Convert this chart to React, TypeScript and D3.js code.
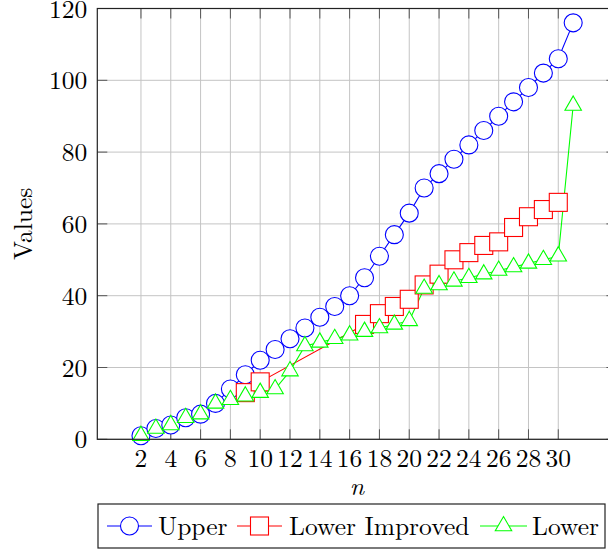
import * as d3 from 'd3';

// n values on the x axis
const nValues = [2, 3, 4, 5, 6, 7, 8, 9, 10, 11, 12, 13, 14, 15, 16, 17, 18, 19, 20, 21, 22, 23, 24, 25, 26, 27, 28, 29, 30, 31];

// series (null = no point)
const upper = [1, 3, 4, 6, 7, 10, 14, 18, 22, 25, 28, 31, 34, 37, 40, 45, 51, 57, 63, 70, 74, 78, 82, 86, 90, 94, 98, 102, 106, 116];
const lowerImproved = [null, null, null, null, null, null, null, 13, 16, null, null, null, null, null, null, 32, 35, 37, 39, 43, 46, 50, 52, 54, 55, 59, 62, 64, 66, null];
const lower = [1, 3, 4, 6, 7, 10, 11, 12, 13, 14, 19, 26, 27, 28, 29, 30, 31, 32, 33, 42, 43, 44, 45, 46, 47, 48, 49, 50, 51, 93];

const xTicks = [2, 4, 6, 8, 10, 12, 14, 16, 18, 20, 22, 24, 26, 28, 30];
const yTicks = [0, 20, 40, 60, 80, 100, 120];

const seriesNames = ['Upper', 'Lower Improved', 'Lower'];

// ─── Layout ─────────────────────────────────────────────────
const W = 608;
const H = 551;
const left = 97.3;
const unit = 14.904;
const xMin = -0.93;
const xMax = 33.9;
const right = left + (xMax - xMin) * unit;
const top = 8.5;
const bottom = 439.3;
const tickLen = 10;
const FONT = '"Latin Modern Roman", "Liberation Serif", serif';
const FS = 25.5;
const txt = { fontFamily: FONT, fontSize: FS };

const x = d3.scaleLinear().domain([xMin, xMax]).range([left, right]);
const y = d3.scaleLinear().domain([0, 120]).range([bottom, top]);

type Pt = { n: number; v: number };
const toPts = (vals: (number | null)[]): Pt[] =>
  nValues.map((n, i) => ({ n, v: vals[i] as number })).filter((d) => d.v != null);

const series = [
  { name: seriesNames[0], color: '#0000ff', mark: 'circle', pts: toPts(upper) },
  { name: seriesNames[1], color: '#ff0000', mark: 'square', pts: toPts(lowerImproved) },
  { name: seriesNames[2], color: '#00ff00', mark: 'triangle', pts: toPts(lower) },
];

const line = d3.line<Pt>().x((d) => x(d.n)).y((d) => y(d.v));

function Marker({ kind, cx, cy, color }: { kind: string; cx: number; cy: number; color: string }) {
  if (kind === 'circle') {
    return <circle cx={cx} cy={cy} r={9} fill="#fff" stroke={color} strokeWidth={1.1} />;
  }
  if (kind === 'square') {
    return <rect x={cx - 9} y={cy - 9} width={18} height={18} fill="#fff" stroke={color} strokeWidth={1.1} />;
  }
  const r = 9.5;
  const s = r * Math.sin(Math.PI / 3);
  const p = `${cx},${cy - r} ${cx + s},${cy + r / 2} ${cx - s},${cy + r / 2}`;
  return <polygon points={p} fill="#fff" stroke={color} strokeWidth={1.1} />;
}

// legend entries: line start, line end, text start
const legendPos = [
  { x0: 107, x1: 152, tx: 158 },
  { x0: 237, x1: 282, tx: 289 },
  { x0: 480, x1: 527, tx: 532 },
];

export default function App() {
  return (
    <svg width={W} height={H} style={{ position: 'absolute', left: 0, top: 0, background: '#fff' }}>
      {/* grid */}
      <g stroke="#c4c4c4" strokeWidth={1}>
        {xTicks.map((t) => (
          <line key={'gx' + t} x1={x(t)} x2={x(t)} y1={top} y2={bottom} />
        ))}
        {yTicks.map((t) => (
          <line key={'gy' + t} x1={left} x2={right} y1={y(t)} y2={y(t)} />
        ))}
      </g>

      {/* ticks (inward, all four sides) */}
      <g stroke="#555" strokeWidth={1}>
        {xTicks.map((t) => (
          <g key={'tx' + t}>
            <line x1={x(t)} x2={x(t)} y1={bottom} y2={bottom - tickLen} />
            <line x1={x(t)} x2={x(t)} y1={top} y2={top + tickLen} />
          </g>
        ))}
        {yTicks.map((t) => (
          <g key={'ty' + t}>
            <line x1={left} x2={left + tickLen} y1={y(t)} y2={y(t)} />
            <line x1={right} x2={right - tickLen} y1={y(t)} y2={y(t)} />
          </g>
        ))}
      </g>

      {/* lines first, then all marks on top */}
      {series.map((s) => (
        <path key={'l' + s.name} d={line(s.pts) || ''} fill="none" stroke={s.color} strokeWidth={1.1} />
      ))}
      {series.map((s) => (
        <g key={'m' + s.name}>
          {s.pts.map((d) => (
            <Marker key={d.n} kind={s.mark} cx={x(d.n)} cy={y(d.v)} color={s.color} />
          ))}
        </g>
      ))}

      {/* frame */}
      <rect x={left} y={top} width={right - left} height={bottom - top} fill="none" stroke="#222" strokeWidth={1.2} />

      {/* tick labels */}
      {xTicks.map((t) => (
        <text key={'lx' + t} x={x(t)} y={bottom + 27.5} textAnchor="middle" style={txt}>
          {t}
        </text>
      ))}
      {yTicks.map((t) => (
        <text key={'ly' + t} x={left - 10} y={y(t) + 9} textAnchor="end" style={txt}>
          {t}
        </text>
      ))}

      {/* axis labels */}
      <text x={(left + right) / 2} y={495} textAnchor="middle" style={{ ...txt, fontStyle: 'italic' }}>
        n
      </text>
      <text transform={`translate(32,${(top + bottom) / 2}) rotate(-90)`} textAnchor="middle" style={txt}>
        Values
      </text>

      {/* legend */}
      <rect x={98} y={504} width={507} height={44} fill="#fff" stroke="#222" strokeWidth={1.2} />
      {series.map((s, i) => {
        const p = legendPos[i];
        return (
          <g key={'lg' + s.name}>
            <line x1={p.x0} x2={p.x1} y1={526} y2={526} stroke={s.color} strokeWidth={1.1} />
            <Marker kind={s.mark} cx={(p.x0 + p.x1) / 2} cy={526} color={s.color} />
            <text x={p.tx} y={534.5} style={txt}>
              {s.name}
            </text>
          </g>
        );
      })}
    </svg>
  );
}
